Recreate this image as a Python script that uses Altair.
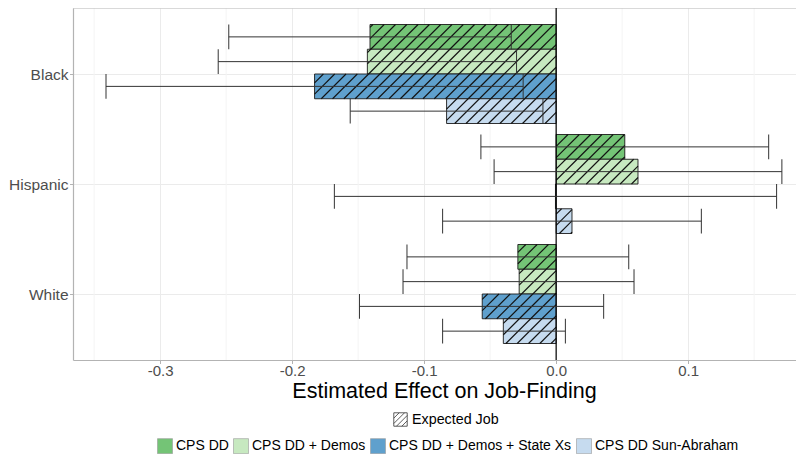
import json
import altair as alt
import numpy as np
import pandas as pd

# ---------------- data ----------------
races = ["Black", "Hispanic", "White"]
models = ["CPS DD", "CPS DD + Demos", "CPS DD + Demos + State Xs", "CPS DD Sun-Abraham"]
model_colors = ["#74c476", "#c7e9c0", "#5fa0cd", "#c6dbef"]

estimate_black = [-0.141, -0.143, -0.183, -0.083]
estimate_hispanic = [0.052, 0.062, -0.0005, 0.012]
estimate_white = [-0.029, -0.028, -0.056, -0.040]

ci_low_black = [-0.248, -0.256, -0.341, -0.156]
ci_low_hispanic = [-0.057, -0.047, -0.168, -0.086]
ci_low_white = [-0.113, -0.116, -0.149, -0.086]

ci_high_black = [-0.034, -0.030, -0.025, -0.010]
ci_high_hispanic = [0.161, 0.171, 0.167, 0.110]
ci_high_white = [0.055, 0.059, 0.036, 0.007]

x_major_ticks = [-0.3, -0.2, -0.1, 0.0, 0.1]
x_minor_ticks = [-0.35, -0.25, -0.15, -0.05, 0.05, 0.15]
pattern_label = "Expected Job"
x_title = "Estimated Effect on Job-Finding"

# ---------------- layout ----------------
W, H = 723, 352
X_DOM = [-0.366, 0.1817]
Y_DOM = [-0.6, 2.6]
BAND = 0.9
HATCH_SPACING = 11.3  # px, horizontal distance between hatch lines
FONT = "Liberation Sans"
BORDER = "#b3b3b3"

estimates = [estimate_black, estimate_hispanic, estimate_white]
lows = [ci_low_black, ci_low_hispanic, ci_low_white]
highs = [ci_high_black, ci_high_hispanic, ci_high_white]

rows = []
for i, race in enumerate(races):
    for k, model in enumerate(models):
        y0 = i - BAND / 2 + k * BAND / len(models)
        y1 = y0 + BAND / len(models)
        rows.append(dict(race=race, model=model, base=0.0,
                         est=estimates[i][k], lo=lows[i][k], hi=highs[i][k],
                         y0=y0, y1=y1, yc=(y0 + y1) / 2))
df = pd.DataFrame(rows)

caps = pd.concat([
    df[["model", "lo", "y0", "y1"]].rename(columns={"lo": "xc"}),
    df[["model", "hi", "y0", "y1"]].rename(columns={"hi": "xc"}),
])

# hatch segments ("/" at 45 degrees in screen space), clipped to each bar
px_x = W / (X_DOM[1] - X_DOM[0])
px_y = H / (Y_DOM[1] - Y_DOM[0])
segs = []
for r in rows:
    xa, xb = sorted([(r["base"] - X_DOM[0]) * px_x, (r["est"] - X_DOM[0]) * px_x])
    ya, yb = (r["y0"] - Y_DOM[0]) * px_y, (r["y1"] - Y_DOM[0]) * px_y
    if xb - xa < 1.5:
        continue
    c = np.ceil((xa + ya) / HATCH_SPACING) * HATCH_SPACING
    while c < xb + yb:
        xs = max(xa, c - yb)
        xe = min(xb, c - ya)
        if xe - xs > 0.3:
            segs.append(dict(
                hx=X_DOM[0] + xs / px_x, hy=Y_DOM[0] + (c - xs) / px_y,
                hx2=X_DOM[0] + xe / px_x, hy2=Y_DOM[0] + (c - xe) / px_y))
        c += HATCH_SPACING
hatch_df = pd.DataFrame(segs)

xs_ = alt.Scale(domain=X_DOM, nice=False, zero=False)
ys_ = alt.Scale(domain=Y_DOM, reverse=True, nice=False, zero=False)

x_axis = alt.Axis(
    values=x_major_ticks,
    labelExpr="replace(format(datum.value, '.1f'), '\u2212', '-')",
    title=x_title, titleFontSize=21.5, titleFontWeight="normal", titleColor="black",
    titleX=371, titlePadding=2,
    labelFontSize=15, labelColor="#4d4d4d", tickSize=3.5, labelPadding=0,
    grid=True, gridColor="#ebebeb",
    domain=True, domainColor=BORDER, domainWidth=1,
)
y_axis = alt.Axis(
    values=list(range(len(races))),
    labelExpr=json.dumps(races) + "[datum.value]",
    title=None, labelFontSize=15.5, labelColor="#4d4d4d", tickSize=3.5,
    labelPadding=1.5, grid=True, gridColor="#ebebeb",
    domain=True, domainColor=BORDER, domainWidth=1.2,
)

minor = alt.Chart(pd.DataFrame({"m": x_minor_ticks})).mark_rule(
    color="#f4f4f4", strokeWidth=1
).encode(x=alt.X("m:Q", scale=xs_, axis=x_axis))

top_border = alt.Chart(pd.DataFrame({"t": [Y_DOM[0]]})).mark_rule(
    color=BORDER, strokeWidth=1
).encode(y=alt.Y("t:Q", scale=ys_, axis=y_axis))

bars = alt.Chart(df).mark_rect(stroke="#1a1a1a", strokeWidth=0.9).encode(
    x=alt.X("base:Q", scale=xs_, axis=x_axis),
    x2="est:Q",
    y=alt.Y("y0:Q", scale=ys_, axis=y_axis),
    y2="y1:Q",
    fill=alt.Fill("model:N", scale=alt.Scale(domain=models, range=model_colors),
                  legend=alt.Legend(title=None, orient="none", direction="horizontal",
                                    legendX=84, legendY=430, padding=0,
                                    symbolType="square", symbolSize=225,
                                    symbolStrokeColor="#999999", symbolStrokeWidth=0.6,
                                    labelFont=FONT, labelFontSize=14, labelColor="black",
                                    labelOffset=3, columnPadding=3, labelLimit=400)),
)

hatch = alt.Chart(hatch_df).mark_rule(color="#111111", strokeWidth=1.1).encode(
    x=alt.X("hx:Q", scale=xs_, axis=x_axis), x2="hx2:Q",
    y=alt.Y("hy:Q", scale=ys_, axis=y_axis), y2="hy2:Q",
)

zero_line = alt.Chart(pd.DataFrame({"z": [0.0]})).mark_rule(
    color="black", strokeWidth=1.2
).encode(x=alt.X("z:Q", scale=xs_, axis=x_axis))

err_line = alt.Chart(df).mark_rule(color="#333333", strokeWidth=1).encode(
    x=alt.X("lo:Q", scale=xs_, axis=x_axis), x2="hi:Q",
    y=alt.Y("yc:Q", scale=ys_, axis=y_axis),
)
err_caps = alt.Chart(caps).mark_rule(color="#333333", strokeWidth=1).encode(
    x=alt.X("xc:Q", scale=xs_, axis=x_axis),
    y=alt.Y("y0:Q", scale=ys_, axis=y_axis), y2="y1:Q",
)

HATCH_PATH = ("M-1,-1H1V1H-1Z M-1,-0.2L-0.2,-1 M-1,0.6L0.6,-1 "
              "M-0.6,1L1,-0.6 M0.2,1L1,0.2")
pattern_key = alt.Chart(pd.DataFrame({"pattern": [pattern_label], "v": [0.0], "w": [0.0]})).mark_point(
    opacity=0, size=1
).encode(
    x=alt.X("v:Q", scale=xs_, axis=x_axis),
    y=alt.Y("w:Q", scale=ys_, axis=y_axis),
    shape=alt.Shape("pattern:N",
                    scale=alt.Scale(domain=[pattern_label], range=[HATCH_PATH]),
                    legend=alt.Legend(title=None, orient="none", legendX=320, legendY=404,
                                      padding=0, symbolFillColor="white",
                                      symbolStrokeColor="#333333", symbolStrokeWidth=0.8,
                                      symbolOpacity=1, symbolSize=180,
                                      labelFont=FONT, labelFontSize=14.3, labelColor="black",
                                      labelOffset=4)),
)

chart = alt.layer(minor, top_border, bars, hatch, zero_line, err_line, err_caps,
                  pattern_key).properties(
    width=W, height=H,
    padding={"left": 65, "top": 0, "right": 0, "bottom": 94},
    autosize=alt.AutoSizeParams(type="none"),
).configure_view(stroke="transparent").configure_axis(
    labelFont=FONT, titleFont=FONT, tickColor=BORDER,
).configure_legend(labelFont=FONT)

chart.save("out.html", embed_options={"renderer": "svg", "actions": False})
